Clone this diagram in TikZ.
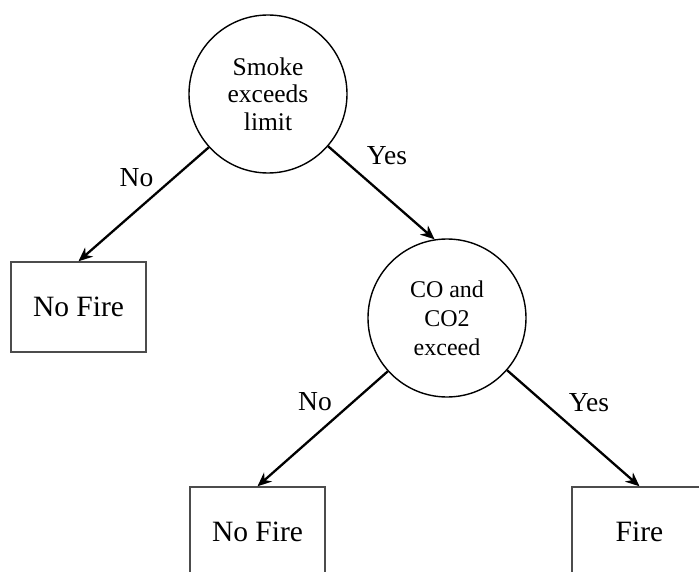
\documentclass[tikz,border=0pt]{standalone}
\usepackage{fontspec}
\setmainfont{Liberation Serif}
\usetikzlibrary{arrows.meta}

\tikzset{
  test/.style={circle, draw=black, line width=1.4pt, minimum size=158pt, inner sep=0pt, align=center},
  outcome/.style={rectangle, draw=black!70, line width=1.4pt, minimum width=135pt, minimum height=90pt, inner sep=0pt,
    font=\fontsize{29.5}{34}\selectfont},
  branch/.style={line width=2.3pt, -{Stealth[length=14pt, width=12pt, inset=4.5pt]}},
  answer/.style={inner sep=0pt, font=\fontsize{27.5}{32}\selectfont}
}

\begin{document}
\begin{tikzpicture}[x=1pt, y=-1pt]
  \useasboundingbox (0,0) rectangle (699,572);
  \clip (0,0) rectangle (699,572);

  % decision nodes
  \node[test, font=\fontsize{25.5}{27.7}\selectfont] (smoke) at (268,94) {Smoke\\exceeds\\limit};
  \node[test, font=\fontsize{24}{29}\selectfont] (gas) at (447,318) {CO and\\CO2\\exceed};

  % outcomes
  \node[outcome] (nofireA) at (78.5,307) {No Fire};
  \node[outcome] (nofireB) at (257.5,532) {No Fire};
  \node[outcome] (fire) at (639.5,532) {Fire};

  % branches
  \draw[branch] (smoke.-138) -- (nofireA.north);
  \draw[branch] (smoke.-41) -- (gas.99);
  \draw[branch] (gas.-138.5) -- (nofireB.north);
  \draw[branch] (gas.-41.3) -- (fire.north);

  % branch answers
  \node[answer] (noA) at (136.5,178) {No};
  \node[answer] (yesA) at (387,156) {Yes};
  \node[answer] (noB) at (315,402) {No};
  \node[answer] (yesB) at (589,403) {Yes};
\end{tikzpicture}
\end{document}
